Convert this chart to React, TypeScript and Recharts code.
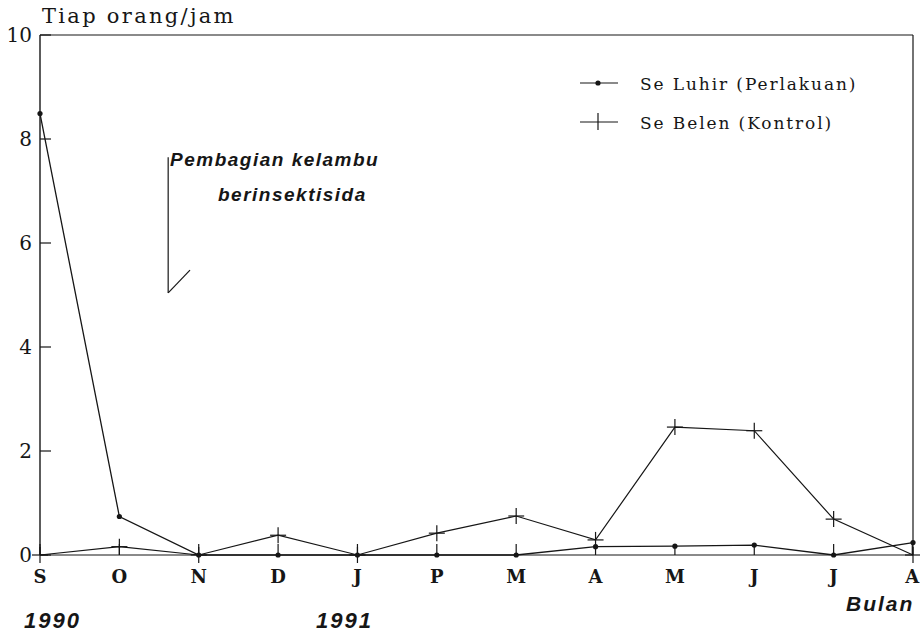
import React from 'react';
import { LineChart, Line, XAxis, YAxis, ReferenceLine, Legend } from 'recharts';

const months = ['S', 'O', 'N', 'D', 'J', 'P', 'M', 'A', 'M', 'J', 'J', 'A'];
const luhir = [8.49, 0.74, 0, 0, 0, 0, 0, 0.16, 0.17, 0.19, 0, 0.24];
const belen = [0, 0.16, 0, 0.38, 0, 0.42, 0.75, 0.29, 2.46, 2.39, 0.69, 0];
const yTicks = [0, 2, 4, 6, 8, 10];
const xTicks = months.map((_, i) => i);

const data = months.map((m, i) => ({ i, month: m, luhir: luhir[i], belen: belen[i] }));

const INK = '#161616';
const SERIF = '"DejaVu Serif", "Liberation Serif", serif';
const SANS = '"Liberation Sans", Arial, sans-serif';

const DotMarker = (props: any) => {
  const { cx, cy } = props;
  if (cx == null || cy == null) return null;
  return <circle cx={cx} cy={cy} r={2.6} fill={INK} stroke="none" />;
};

const PlusMarker = (props: any) => {
  const { cx, cy } = props;
  if (cx == null || cy == null) return null;
  return (
    <g stroke={INK} strokeWidth={1.2}>
      <line x1={cx - 8} x2={cx + 8} y1={cy} y2={cy} />
      <line x1={cx} x2={cx} y1={cy - 8} y2={cy + 8} />
    </g>
  );
};

const YTick = (props: any) => {
  const { x, y, payload } = props;
  return (
    <g>
      <text x={x} y={y} textAnchor="end" dominantBaseline="central" fontFamily={SERIF} fontSize={20} fill={INK}>
        {payload.value}
      </text>
      <line x1={x + 8} x2={x + 19} y1={y} y2={y} stroke={INK} strokeWidth={1.2} />
    </g>
  );
};

const XTick = (props: any) => {
  const { x, y, payload } = props;
  return (
    <g>
      <line x1={x} x2={x} y1={y - 14} y2={y - 25} stroke={INK} strokeWidth={1.2} />
      <text x={x} y={y + 14} textAnchor="middle" fontFamily={SERIF} fontSize={18} fontWeight="bold" fill={INK}>
        {months[payload.value]}
      </text>
    </g>
  );
};

const LegendContent = () => (
  <svg width={320} height={70} style={{ overflow: 'visible' }}>
    <g stroke={INK} strokeWidth={1.2}>
      <line x1={5} x2={43} y1={13} y2={13} />
      <line x1={5} x2={43} y1={52} y2={52} />
      <line x1={23} x2={23} y1={43} y2={60} />
    </g>
    <circle cx={23} cy={13} r={2.6} fill={INK} />
    <text x={65} y={14} dominantBaseline="central" fontFamily={SERIF} fontSize={17} fill={INK} letterSpacing={1.9}>
      Se Luhir (Perlakuan)
    </text>
    <text x={65} y={53} dominantBaseline="central" fontFamily={SERIF} fontSize={17} fill={INK} letterSpacing={1.9}>
      Se Belen (Kontrol)
    </text>
  </svg>
);

const italicStyle: React.CSSProperties = {
  position: 'absolute',
  fontFamily: SANS,
  fontStyle: 'italic',
  fontWeight: 'bold',
  color: INK,
  whiteSpace: 'nowrap',
  lineHeight: 1,
};

export default function App() {
  return (
    <div style={{ position: 'absolute', left: 0, top: 0, width: 920, height: 636, background: '#fff' }}>
      <LineChart width={920} height={636} data={data} margin={{ top: 35, right: 7, bottom: 51, left: 0 }}>
        <XAxis
          dataKey="i"
          type="number"
          domain={[0, 11]}
          ticks={xTicks}
          height={30}
          tickSize={0}
          tickMargin={14}
          tickLine={false}
          axisLine={{ stroke: INK, strokeWidth: 1.2 }}
          tick={<XTick />}
        />
        <YAxis
          type="number"
          domain={[0, 10]}
          ticks={yTicks}
          width={40}
          tickSize={0}
          tickMargin={8}
          tickLine={false}
          axisLine={{ stroke: INK, strokeWidth: 1.4 }}
          tick={<YTick />}
        />
        <ReferenceLine y={10} stroke={INK} strokeWidth={1.2} />
        <ReferenceLine x={11} stroke={INK} strokeWidth={1.2} />
        <ReferenceLine
          segment={[{ x: 1.615, y: 7.65 }, { x: 1.615, y: 5.04 }]}
          stroke={INK}
          strokeWidth={1.2}
        />
        <ReferenceLine
          segment={[{ x: 1.615, y: 5.04 }, { x: 1.89, y: 5.48 }]}
          stroke={INK}
          strokeWidth={1.2}
        />
        <Line
          type="linear"
          dataKey="belen"
          name="Se Belen (Kontrol)"
          stroke={INK}
          strokeWidth={1.2}
          dot={<PlusMarker />}
          activeDot={false}
          isAnimationActive={false}
        />
        <Line
          type="linear"
          dataKey="luhir"
          name="Se Luhir (Perlakuan)"
          stroke={INK}
          strokeWidth={1.3}
          dot={<DotMarker />}
          activeDot={false}
          isAnimationActive={false}
        />
        <Legend
          layout="horizontal"
          verticalAlign="middle"
          align="center"
          content={<LegendContent />}
          wrapperStyle={{ position: 'absolute', left: 575, top: 70, width: 320, height: 70 }}
        />
      </LineChart>
      <div style={{ position: 'absolute', left: 42, top: 6, fontFamily: SERIF, fontSize: 21, color: INK, letterSpacing: 2.3, lineHeight: 1 }}>
        Tiap orang/jam
      </div>
      <div style={{ ...italicStyle, left: 170, top: 150, fontSize: 19, letterSpacing: 1.5 }}>Pembagian kelambu</div>
      <div style={{ ...italicStyle, left: 218, top: 185, fontSize: 19, letterSpacing: 1.5 }}>berinsektisida</div>
      <div style={{ ...italicStyle, left: 24, top: 610, fontSize: 22, letterSpacing: 2 }}>1990</div>
      <div style={{ ...italicStyle, left: 316, top: 610, fontSize: 22, letterSpacing: 2 }}>1991</div>
      <div style={{ ...italicStyle, left: 846, top: 593, fontSize: 21, letterSpacing: 2 }}>Bulan</div>
    </div>
  );
}
